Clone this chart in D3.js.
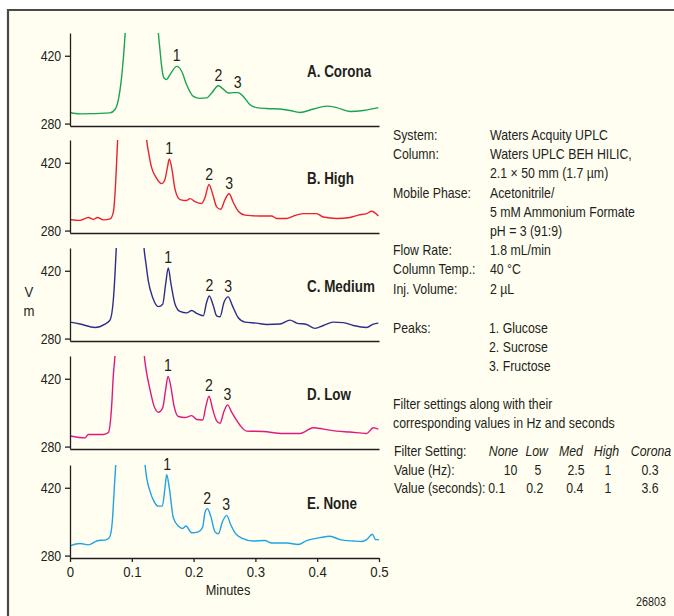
<!DOCTYPE html>
<html>
<head>
<meta charset="utf-8">
<script src="https://cdn.jsdelivr.net/npm/d3@7"></script>
<style>
  body { margin: 0; background: #fff; }
  text { font-family: "Liberation Sans", Arial, sans-serif; fill: #231f20; }
</style>
</head>
<body>
<script>
// chromatogram traces, [minutes, signal]
// the solvent front goes far off scale, the apex point is only a rough guess
const corona = [[0,303],[0.0162,300],[0.0647,302],[0.0728,309],[0.0782,329],[0.0836,377],[0.0874,432],[0.0895,470],
  [0.115,1500],[0.1429,468],[0.1456,432],[0.1483,398],[0.152,374],[0.1564,371],[0.1618,381],[0.1726,398],[0.1807,388],
  [0.1888,360],[0.1996,336],[0.2104,332],[0.2211,333],[0.2292,343],[0.24,358],[0.248,351],[0.256,343],[0.2643,344],
  [0.2723,344],[0.2804,336],[0.2913,319],[0.302,313],[0.318,311],[0.3398,310],[0.356,307],[0.372,303],[0.394,310],
  [0.4153,316],[0.4315,313],[0.453,305],[0.4746,307],[0.4989,313]];

const high = [[0,303],[0.0162,301],[0.0297,307],[0.0378,303],[0.0442,307],[0.054,302],[0.0647,304],[0.07,317],
  [0.0728,355],[0.0755,423],[0.0771,468],[0.1,1500],[0.124,468],[0.1278,437],[0.1321,410],[0.1392,390],[0.1483,377],
  [0.1537,386],[0.158,413],[0.1607,428],[0.1645,410],[0.17,365],[0.178,344],[0.1888,342],[0.1942,346],[0.2023,340],
  [0.2131,336],[0.2184,348],[0.2249,375],[0.2309,355],[0.2373,329],[0.2438,324],[0.2508,344],[0.2573,356],[0.2643,338],
  [0.2723,320],[0.2832,312],[0.3074,310],[0.3263,310],[0.3344,305],[0.3506,305],[0.3614,310],[0.3775,315],[0.3991,315],
  [0.4099,308],[0.4315,305],[0.453,307],[0.4665,312],[0.48,315],[0.4881,320],[0.4989,310]];

const medium = [[0,314],[0.0162,310],[0.0405,303],[0.0566,310],[0.0647,318],[0.07,358],[0.0728,413],[0.0749,468],
  [0.097,1500],[0.1197,468],[0.123,434],[0.1267,399],[0.1338,365],[0.1429,346],[0.15,351],[0.1548,393],[0.159,426],
  [0.1634,393],[0.17,351],[0.178,336],[0.1888,333],[0.1969,338],[0.205,332],[0.2157,327],[0.2211,355],[0.2254,368],
  [0.2319,348],[0.2373,327],[0.2427,325],[0.2492,355],[0.256,366],[0.2627,348],[0.2723,323],[0.2832,314],[0.302,312],
  [0.3182,309],[0.3398,310],[0.356,318],[0.3668,312],[0.3829,309],[0.3964,301],[0.41,307],[0.426,314],[0.4422,313],
  [0.4584,307],[0.48,303],[0.4908,310],[0.4989,312]];

const low = [[0,302],[0.0243,298],[0.0297,305],[0.054,305],[0.0621,309],[0.0674,364],[0.07,425],[0.0728,468],
  [0.096,1500],[0.1202,468],[0.124,432],[0.1294,398],[0.1359,364],[0.1429,351],[0.15,360],[0.1548,398],[0.1586,425],
  [0.163,405],[0.1683,364],[0.1753,342],[0.1861,340],[0.1969,344],[0.205,336],[0.2147,335],[0.22,364],[0.2249,384],
  [0.2309,357],[0.2373,333],[0.2427,328],[0.2492,353],[0.2551,366],[0.2616,351],[0.2686,336],[0.2751,324],[0.2859,312],
  [0.3128,311],[0.3452,307],[0.3722,307],[0.3937,319],[0.41,316],[0.4315,312],[0.453,310],[0.48,307],[0.4908,319],
  [0.4989,316]];

const none = [[0,300],[0.0162,305],[0.0297,302],[0.0432,310],[0.0594,313],[0.0647,320],[0.0685,351],[0.0717,420],
  [0.074,468],[0.098,1500],[0.1214,468],[0.124,441],[0.1294,413],[0.1359,392],[0.1429,382],[0.1494,382],[0.1537,420],
  [0.1564,447],[0.1607,420],[0.1672,358],[0.1753,341],[0.1823,336],[0.1877,341],[0.1969,327],[0.2077,329],[0.2147,339],
  [0.2184,369],[0.2222,377],[0.2276,362],[0.2346,329],[0.24,325],[0.247,351],[0.2535,363],[0.26,344],[0.267,327],
  [0.2778,316],[0.2966,310],[0.3155,311],[0.3263,306],[0.3506,306],[0.3695,303],[0.3829,311],[0.4045,317],[0.4207,320],
  [0.4369,313],[0.4584,310],[0.4719,309],[0.48,313],[0.4892,324],[0.4946,313],[0.5,313]];

const panelNames = ["A. Corona", "B. High", "C. Medium", "D. Low", "E. None"];
const traces = [corona, high, medium, low, none];
const colors = ["#18a550", "#e8232d", "#2b2f8c", "#e0197f", "#1fa3e3"];

// peak apexes (minutes, signal) for the 1-2-3 labels
const peakTimes = [[0.1726, 0.24, 0.2711], [0.1604, 0.2252, 0.2575], [0.159, 0.2254, 0.256],
  [0.1586, 0.2249, 0.2546], [0.1572, 0.2219, 0.2527]];
const peakHeights = [[398, 358, 344], [428, 375, 356], [426, 368, 366], [425, 384, 366], [447, 377, 363]];

const xTicks = [0, 0.1, 0.2, 0.3, 0.4, 0.5];
const yTicks = [280, 420];

const infoLabels = ["System:", "Column:", "", "Mobile Phase:", "", "", "Flow Rate:", "Column Temp.:", "Inj. Volume:"];
const infoValues = ["Waters Acquity UPLC", "Waters UPLC BEH HILIC,", "2.1 × 50 mm (1.7 µm)", "Acetonitrile/",
  "5 mM Ammonium Formate", "pH = 3 (91:9)", "1.8 mL/min", "40 °C", "2 µL"];
const peakNames = ["1. Glucose", "2. Sucrose", "3. Fructose"];

const filterNames = ["None", "Low", "Med", "High", "Corona"];
const filterHz = ["10", "5", "2.5", "1", "0.3"];
const filterSec = ["0.1", "0.2", "0.4", "1", "3.6"];

let width = 674,
    height = 616;

let svg = d3.select("body").append("svg")
    .attr("width", width)
    .attr("height", height);

// no condensed font installed, so squeeze Liberation Sans sideways
function label(parent, x, y, str, size, sx, anchor) {
    return parent.append("text")
        .attr("transform", "translate(" + x + "," + y + ") scale(" + sx + ",1)")
        .attr("text-anchor", anchor || "start")
        .style("font-size", size + "px")
        .text(str);
}

// cream card, only left and top edges show
svg.append("rect")
    .attr("x", 8).attr("y", 10)
    .attr("width", width).attr("height", height)
    .attr("fill", "#fffef1");
svg.append("path")
    .attr("d", "M8," + height + "V10H" + width)
    .attr("fill", "none")
    .attr("stroke", "#4a4a44")
    .attr("stroke-width", 2.2);

let x = d3.scaleLinear().domain([0, 0.5]).range([70, 379]);
let bottoms = [126, 233, 341, 449, 558];
let panelH = 93;

let line = d3.line().curve(d3.curveMonotoneX);

traces.forEach(function (data, i) {
    let b = bottoms[i];
    let y = d3.scaleLinear().domain([275, 467]).range([b, b - panelH]);
    let g = svg.append("g");

    g.append("clipPath").attr("id", "clip" + i)
        .append("rect")
        .attr("x", 70).attr("y", b - panelH)
        .attr("width", 310).attr("height", panelH);

    g.append("path")
        .datum(data)
        .attr("clip-path", "url(#clip" + i + ")")
        .attr("fill", "none")
        .attr("stroke", colors[i])
        .attr("stroke-width", 1.4)
        .attr("d", line.x(d => x(d[0])).y(d => y(d[1])));

    let ya = g.append("g")
        .attr("transform", "translate(70,0)")
        .call(d3.axisLeft(y).tickValues(yTicks).tickSize(5).tickSizeOuter(0).tickPadding(5));
    ya.selectAll("text").style("font-size", "14px").attr("dy", "0.36em")
        .attr("transform", "scale(0.88,1)");

    let xa = g.append("g")
        .attr("transform", "translate(0," + b + ")");
    if (i == 4) {
        xa.call(d3.axisBottom(x).tickValues(xTicks).tickSize(4).tickSizeOuter(0).tickPadding(4)
            .tickFormat(d3.format("~g")));
        xa.selectAll("text").style("font-size", "15px").attr("transform", "scale(0.88,1)");
    } else {
        xa.call(d3.axisBottom(x).tickValues([]).tickSizeOuter(0));
    }
    svg.selectAll(".domain, .tick line").attr("stroke", "#231f20").attr("stroke-width", 1.3);

    label(g, 307, b - 49, panelNames[i], 16, 0.84).style("font-weight", "bold");

    peakTimes[i].forEach(function (t, j) {
        label(g, x(t), y(peakHeights[i][j]) - 5, j + 1, 16, 0.88, "middle");
    });
});

label(svg, 228, 595, "Minutes", 15, 0.85, "middle");
label(svg, 29, 297, "V", 15, 0.88, "middle");
label(svg, 29, 316, "m", 15, 0.88, "middle");

// conditions block
let info = svg.append("g");
infoLabels.forEach(function (t, i) {
    label(info, 393, 140 + i * 19.2, t, 14, 0.88);
    label(info, 490, 140 + i * 19.2, infoValues[i], 14, 0.88);
});
label(info, 393, 333, "Peaks:", 14, 0.88);
peakNames.forEach(function (t, i) {
    label(info, 489, 333 + i * 19, t, 14, 0.88);
});
label(info, 393, 408.5, "Filter settings along with their", 14, 0.88);
label(info, 393, 427.5, "corresponding values in Hz and seconds", 14, 0.88);

label(info, 394, 456, "Filter Setting:", 14, 0.88);
label(info, 394, 474.5, "Value (Hz):", 14, 0.88);
label(info, 394, 492.5, "Value (seconds):", 14, 0.88);

let headX = [503.5, 536.7, 571, 606.5, 651],
    hzX = [510.5, 538, 576, 608, 650],
    secX = [496.7, 534.7, 574.7, 608, 650];
filterNames.forEach(function (t, i) {
    label(info, headX[i], 456, t, 14, 0.88, "middle").style("font-style", "italic");
    label(info, hzX[i], 474.5, filterHz[i], 14, 0.88, "middle");
    label(info, secX[i], 492.5, filterSec[i], 14, 0.88, "middle");
});

label(svg, 666, 606, "26803", 12, 0.9, "end");
</script>
</body>
</html>
